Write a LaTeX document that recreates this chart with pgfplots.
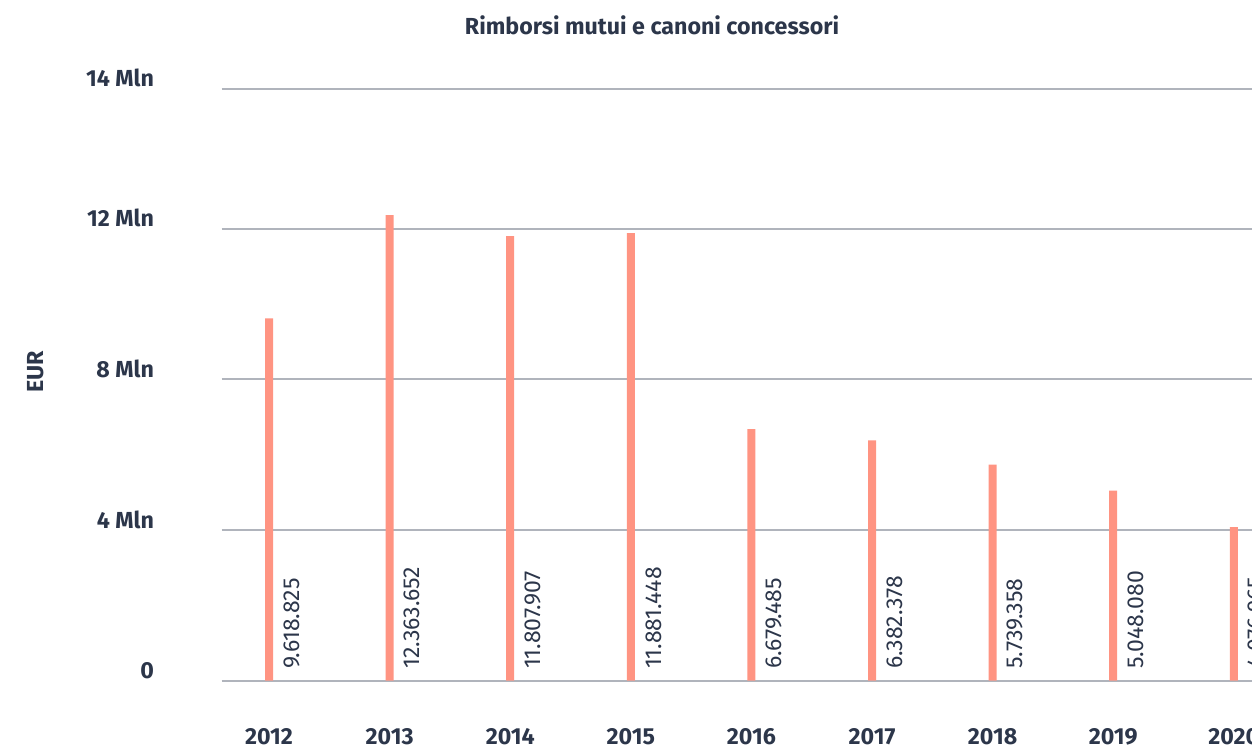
\documentclass[border=0pt]{standalone}
\usepackage{pgfplots}
\pgfplotsset{compat=1.18}
\usepackage{fontspec}
\setmainfont{Fira Sans}
\definecolor{barc}{HTML}{FF9482}
\definecolor{txt}{RGB}{44,54,74}
\definecolor{gridc}{RGB}{176,180,188}
\begin{document}
\begin{tikzpicture}[trim left=0pt, trim right=626pt]
\path (0,0) -- (626pt,374.5pt);
\begin{axis}[
  at={(110.85pt,34.15pt)}, anchor=south west,
  scale only axis, width=554.3pt, height=296pt,
  xmin=-0.3925, xmax=8.8, ymin=0, ymax=15.72,
  ytick={0,4,8,12,15.72}, yticklabels={0,4 Mln,8 Mln,12 Mln,14 Mln},
  xtick={0,1,2,3,4,5,6,7,8},
  xticklabels={2012,2013,2014,2015,2016,2017,2018,2019,2020},
  /pgf/number format/assume math mode=true,
  axis line style={draw=none}, major tick length=0pt, tick style={draw=none},
  ymajorgrids, grid style={draw=gridc, line width=1pt},
  tick label style={font=\bfseries\fontsize{11.6}{13}\selectfont, text=txt, inner sep=0pt},
  yticklabel style={anchor=base east, xshift=-33.7pt, yshift=1pt},
  xticklabel style={anchor=base, yshift=-32.15pt},
  title={Rimborsi mutui e canoni concessori},
  title style={at={(axis description cs:0.3882,1.0919)}, anchor=base, yshift=-6pt, inner sep=0pt,
    font=\bfseries\fontsize{11.6}{13}\selectfont, text=txt},
  ylabel={EUR},
  ylabel style={at={(axis description cs:-0.1681,0.5223)}, anchor=center, inner sep=0pt,
    font=\bfseries\fontsize{11.6}{13}\selectfont, text=txt},
]
\addplot[ybar, bar width=4pt, bar shift=0pt, fill=barc, draw=none] coordinates {
  (0,9.618825) (1,12.363652) (2,11.807907) (3,11.881448) (4,6.679485)
  (5,6.382378) (6,5.739358) (7,5.048080) (8,4.076965)};
\addplot[draw=none, mark=none, nodes near coords, point meta=explicit symbolic,
  nodes near coords style={xshift=11.25pt, yshift=5.7pt, rotate=90, anchor=west,
    inner sep=0pt, font=\fontsize{11.5}{13}\selectfont, text=txt}] coordinates {
  (0,0) [9.618.825] (1,0) [12.363.652] (2,0) [11.807.907] (3,0) [11.881.448]
  (4,0) [6.679.485] (5,0) [6.382.378] (6,0) [5.739.358] (7,0) [5.048.080]
  (8,0) [4.076.965]};
\end{axis}
\end{tikzpicture}
\end{document}
